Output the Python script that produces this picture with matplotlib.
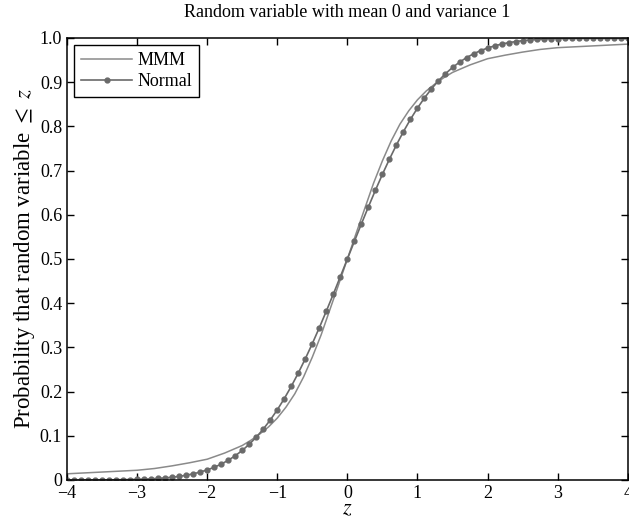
import matplotlib
matplotlib.use("Agg")
import matplotlib.pyplot as plt

plt.rcParams['font.family'] = ['Liberation Serif', 'DejaVu Serif']
plt.rcParams['mathtext.fontset'] = 'stix'
plt.rcParams['font.size'] = 13

# Normal curve, dots every 0.1 from -4 to 4
z_normal = [round(-4 + 0.1 * i, 1) for i in range(81)]
p_normal = [0.0000, 0.0000, 0.0001, 0.0001, 0.0002, 0.0002, 0.0003, 0.0005, 0.0007, 0.0010,
            0.0013, 0.0019, 0.0026, 0.0035, 0.0047, 0.0062, 0.0082, 0.0107, 0.0139, 0.0179,
            0.0228, 0.0287, 0.0359, 0.0446, 0.0548, 0.0668, 0.0808, 0.0968, 0.1151, 0.1357,
            0.1587, 0.1841, 0.2119, 0.2420, 0.2743, 0.3085, 0.3446, 0.3821, 0.4207, 0.4602,
            0.5000,
            0.5398, 0.5793, 0.6179, 0.6554, 0.6915, 0.7257, 0.7580, 0.7881, 0.8159, 0.8413,
            0.8643, 0.8849, 0.9032, 0.9192, 0.9332, 0.9452, 0.9554, 0.9641, 0.9713, 0.9772,
            0.9821, 0.9861, 0.9893, 0.9918, 0.9938, 0.9953, 0.9965, 0.9974, 0.9981, 0.9987,
            0.9990, 0.9993, 0.9995, 0.9997, 0.9998, 0.9998, 0.9999, 0.9999, 1.0000, 1.0000]

# MMM curve (finer steps near the middle)
z_mmm = [-4.0, -3.75, -3.5, -3.25, -3.0, -2.75, -2.5, -2.25, -2.0, -1.75,
         -1.5, -1.375, -1.25, -1.125, -1.0, -0.875, -0.75, -0.625, -0.5, -0.375,
         -0.25, -0.125, 0.0, 0.125, 0.25, 0.375, 0.5, 0.625, 0.75, 0.875,
         1.0, 1.125, 1.25, 1.375, 1.5, 1.75, 2.0, 2.25, 2.5, 2.75,
         3.0, 3.25, 3.5, 3.75, 4.0]
p_mmm = [0.014, 0.016, 0.018, 0.020, 0.022, 0.026, 0.032, 0.039, 0.047, 0.061,
         0.078, 0.090, 0.104, 0.120, 0.140, 0.165, 0.195, 0.233, 0.278, 0.328,
         0.385, 0.442, 0.500, 0.558, 0.615, 0.672, 0.722, 0.767, 0.805, 0.835,
         0.860, 0.880, 0.896, 0.910, 0.922, 0.939, 0.953, 0.961, 0.968, 0.974,
         0.978, 0.980, 0.982, 0.984, 0.986]

xticks = [-4, -3, -2, -1, 0, 1, 2, 3, 4]
xticklabels = ['\u22124', '\u22123', '\u22122', '\u22121', '0', '1', '2', '3', '4']
yticks = [0, 0.1, 0.2, 0.3, 0.4, 0.5, 0.6, 0.7, 0.8, 0.9, 1.0]
yticklabels = ['0', '0.1', '0.2', '0.3', '0.4', '0.5', '0.6', '0.7', '0.8', '0.9', '1.0']

fig = plt.figure(figsize=(6.29, 5.27), dpi=100)
ax = fig.add_axes([0.1065, 0.0892, 0.8915, 0.8388])

ax.plot(z_mmm, p_mmm, color='#8a8a8a', linewidth=1.1, label='MMM')
ax.plot(z_normal, p_normal, color='#6a6a6a', linewidth=1.2, marker='o',
        markersize=3.5, label='Normal')

ax.set_xlim(-4, 4)
ax.set_ylim(0, 1)
ax.set_xticks(xticks)
ax.set_xticklabels(xticklabels)
ax.set_yticks(yticks)
ax.set_yticklabels(yticklabels)
ax.tick_params(direction='in', top=True, right=True, length=5, width=1, labelsize=13)
for s in ax.spines.values():
    s.set_linewidth(1.1)

ax.set_title('Random variable with mean 0 and variance 1', fontsize=13, pad=15)
ax.set_xlabel('$z$', fontsize=16, labelpad=-1)
ax.set_ylabel(r'Probability that random variable $\leq$ $z$', fontsize=16.5, labelpad=2)

leg = ax.legend(loc='upper left', fancybox=False, framealpha=1, edgecolor='black',
                fontsize=13, handlelength=2.8, borderpad=0.4, labelspacing=0.2,
                handletextpad=0.3, borderaxespad=0.4)
leg.get_frame().set_linewidth(1.0)

fig.savefig('out.png', dpi=100)
